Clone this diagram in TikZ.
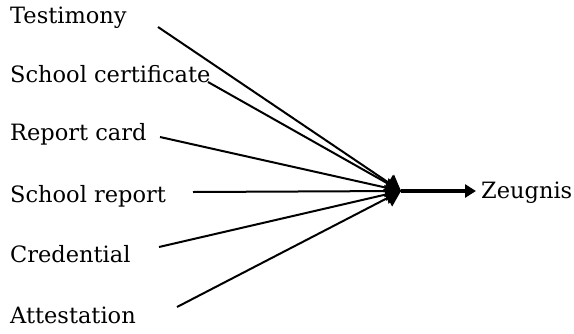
\documentclass[tikz,border=0pt]{standalone}
\usepackage{fontspec}
\setmainfont{DejaVu Serif}
\usetikzlibrary{arrows.meta}
\begin{document}
\begin{tikzpicture}[x=1pt,y=-1pt,
  lbl/.style={anchor=base west,inner sep=0pt,font=\fontsize{22.5}{26}\selectfont},
  feed/.style={line width=2pt,-{Triangle[length=15pt,width=19pt]}},
  main/.style={line width=4pt,-{Triangle[length=11pt,width=13pt]}}]
\useasboundingbox (0,0) rectangle (574,333);
\node[lbl] (t1) at (10,23) {Testimony};
\node[lbl] (t2) at (10,82) {School certificate};
\node[lbl] (t3) at (10,140) {Report card};
\node[lbl] (t4) at (10,202) {School report};
\node[lbl] (t5) at (10,262) {Credential};
\node[lbl] (t6) at (10,323) {Attestation};
\node[lbl] (z) at (481,198) {Zeugnis};
\coordinate (hub) at (401,191);
\coordinate (s1) at (158,27);
\coordinate (s2) at (208,82);
\coordinate (s3) at (160,137);
\coordinate (s4) at (193,192);
\coordinate (s5) at (159,247);
\coordinate (s6) at (177,307);
\coordinate (tip) at (476,191);
\foreach \i in {1,...,6} \draw[feed] (s\i) -- (hub);
\draw[main] (hub) -- (tip);
\end{tikzpicture}
\end{document}
